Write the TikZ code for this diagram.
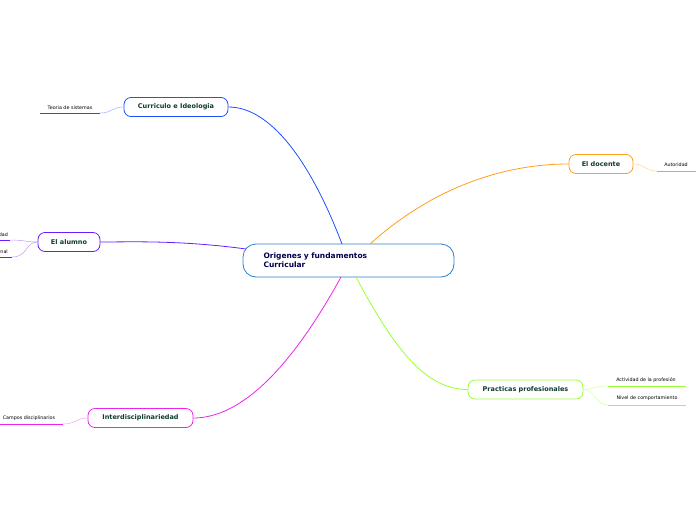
\documentclass[tikz,border=0pt]{standalone}
\usepackage{fontspec}
\setmainfont{DejaVu Sans}
\definecolor{cblue}{HTML}{1F4FFF}
\definecolor{cpurp}{HTML}{6A1BFF}
\definecolor{corange}{HTML}{FF9F1A}
\definecolor{cgreen}{HTML}{99FF33}
\definecolor{cmag}{HTML}{EE22EE}
\definecolor{ccent}{HTML}{2A7FD0}
\definecolor{ctext}{HTML}{0E3B2E}
\begin{document}
\begin{tikzpicture}[x=1pt,y=-1pt,
 topic/.style={draw=#1,rounded corners=7pt,line width=0.8pt,fill=white,font=\bfseries\fontsize{6.5}{8}\selectfont,text=ctext,minimum height=19pt,inner sep=2pt},
 leaf/.style={font=\fontsize{4.8}{6}\selectfont,inner sep=1pt},
 conn/.style={draw=#1,line width=0.8pt},
 thin/.style={draw=#1!45,line width=0.5pt},
 under/.style={draw=#1,line width=1pt}]
\useasboundingbox (0,0) rectangle (696,520);
\begin{scope}
\clip (0,0) rectangle (696,520);
\node[draw=ccent,rounded corners=13pt,line width=0.8pt,minimum width=211pt,minimum height=33pt,font=\bfseries\fontsize{7.5}{9}\selectfont,text=black!70!blue,align=left,text width=170pt] (c) at (348.5,260.5) {Origenes y fundamentos\\Curricular};
\node[topic=cblue,minimum width=104pt] (ci) at (176,107) {Curriculo e Ideologia};
\node[topic=cpurp,minimum width=62pt] (al) at (69,242) {El alumno};
\node[topic=corange,minimum width=64pt] (do) at (601,164) {El docente};
\node[topic=cgreen,minimum width=115pt] (pp) at (525.5,389.5) {Practicas profesionales};
\node[topic=cmag,minimum width=105pt] (in) at (140.5,418) {Interdisciplinariedad};
% center connectors
\draw[conn=cblue] (342,244) .. controls (310,160) and (270,107) .. (ci.east);
\draw[conn=cpurp] (246,249) .. controls (180,240) and (130,242) .. (al.east);
\draw[conn=corange] (370,244) .. controls (430,190) and (500,164) .. (do.west);
\draw[conn=cgreen] (356,277) .. controls (400,360) and (430,389) .. (pp.west);
\draw[conn=cmag] (341,277) .. controls (290,370) and (240,418) .. (in.east);
% leaves
\node[leaf,anchor=south] (l1) at (70,111) {Teoria de sistemas};
\draw[under=cblue] (40,113) coordinate (l1a) -- (100,113) coordinate (l1b);
\draw[thin=cblue] (l1b) .. controls (112,113) and (112,107) .. (ci.west);
\node[leaf,anchor=south east] (l2) at (9,238) {Identidad};
\draw[under=cpurp] (-5,240) -- (10,240) coordinate (l2b);
\draw[thin=cpurp] (l2b) .. controls (25,240) and (25,242) .. (al.west);
\node[leaf,anchor=south east] (l3) at (9,255) {Personal};
\draw[under=cpurp] (-5,257) -- (12,257) coordinate (l3b);
\draw[thin=cpurp] (l3b) .. controls (28,257) and (25,242) .. (al.west);
\node[leaf,anchor=south] (l4) at (676,168) {Autoridad};
\draw[under=corange] (657,171) coordinate (l4a) -- (696,171);
\draw[thin=corange] (do.east) .. controls (645,164) and (645,171) .. (l4a);
\node[leaf,anchor=south] (l5) at (646,384) {Actividad de la profesión};
\draw[under=cgreen] (608,386) coordinate (l5a) -- (686,386);
\draw[thin=cgreen] (pp.east) .. controls (595,389) and (595,386) .. (l5a);
\node[leaf,anchor=south] (l6) at (647,402) {Nivel de comportamiento};
\draw[under=cgreen] (608,405) coordinate (l6a) -- (686,405);
\draw[thin=cgreen] (pp.east) .. controls (595,389) and (595,405) .. (l6a);
\node[leaf,anchor=south] (l7) at (29,422) {Campos disciplinarios};
\draw[under=cmag] (-5,424) -- (63,424) coordinate (l7b);
\draw[thin=cmag] (l7b) .. controls (76,424) and (76,418) .. (in.west);
\end{scope}
\end{tikzpicture}
\end{document}
